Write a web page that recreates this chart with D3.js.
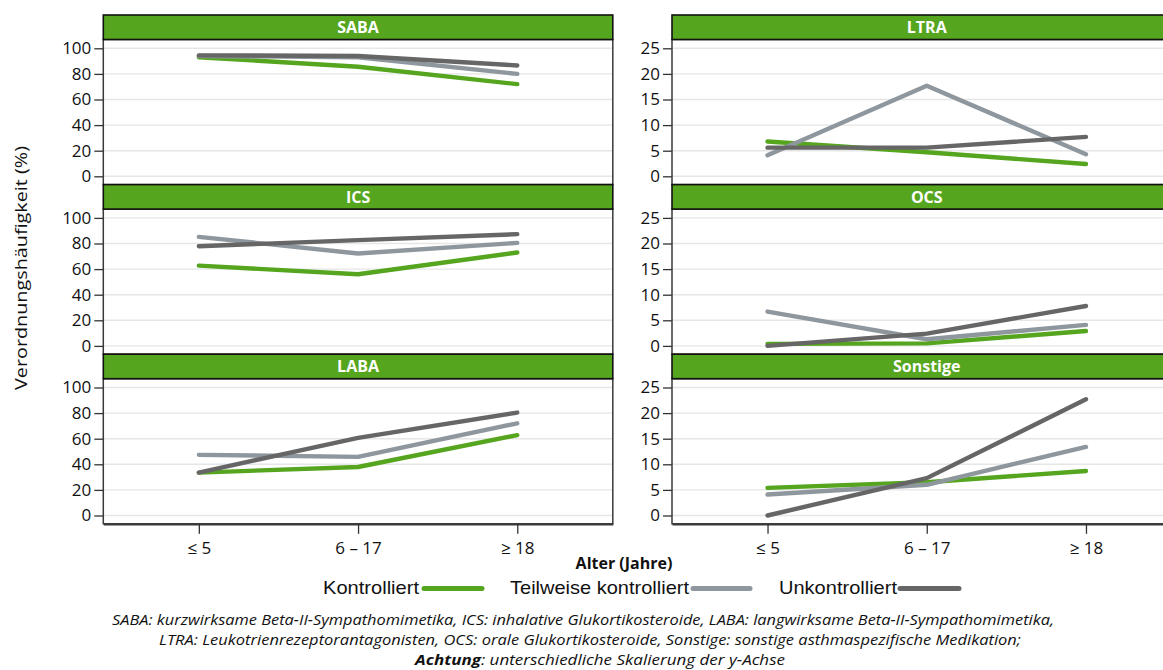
<!DOCTYPE html>
<html>
<head>
<meta charset="utf-8">
<script src="https://cdn.jsdelivr.net/npm/d3@7"></script>
<style>
  html, body { margin: 0; padding: 0; background: #fff; overflow: hidden; }
  svg { display: block; }
</style>
</head>
<body>
<svg id="chart" width="1163" height="670"></svg>
<script>
// ---------- data ----------
const categories = ["≤ 5", "6 – 17", "≥ 18"];
const seriesNames = ["Kontrolliert", "Teilweise kontrolliert", "Unkontrolliert"];
const leftPanels = ["SABA", "ICS", "LABA"];
const rightPanels = ["LTRA", "OCS", "Sonstige"];
const leftTicks = [0, 20, 40, 60, 80, 100];
const rightTicks = [0, 5, 10, 15, 20, 25];

// values per panel: [Kontrolliert, Teilweise kontrolliert, Unkontrolliert]
const SABA     = [[93.0, 85.6, 72.0], [94.0, 93.0, 80.0], [94.5, 94.0, 86.6]];
const ICS      = [[62.7, 56.0, 73.0], [85.2, 72.2, 80.5], [77.9, 82.6, 87.3]];
const LABA     = [[33.5, 37.9, 62.8], [47.4, 45.8, 72.0], [33.5, 60.7, 80.4]];
const LTRA     = [[6.8, 4.7, 2.4],    [4.1, 17.7, 4.3],   [5.6, 5.6, 7.7]];
const OCS      = [[0.4, 0.5, 2.9],    [6.7, 1.3, 4.1],    [0.0, 2.4, 7.8]];
const Sonstige = [[5.4, 6.5, 8.7],    [4.1, 6.0, 13.4],   [0.0, 7.3, 22.7]];
const panelValues = { SABA, ICS, LABA, LTRA, OCS, Sonstige };

const footnote1 = "SABA: kurzwirksame Beta-II-Sympathomimetika, ICS: inhalative Glukortikosteroide, LABA: langwirksame Beta-II-Sympathomimetika,";
const footnote2 = "LTRA: Leukotrienrezeptorantagonisten, OCS: orale Glukortikosteroide, Sonstige: sonstige asthmaspezifische Medikation;";

// ---------- styles ----------
const colors = ["#55a51e", "#8f979e", "#666666"];
const stripFill = "#55a51e";
const tickFont = "'Open Sans', sans-serif";

const svg = d3.select("#chart");

const colLefts = [103.3, 672];
const panelW = 509.5;
const rowTop0 = 15, rowH = 169.6, stripH = 24.5;

function drawPanel(name, col, row, maxV, ticks) {
  const x0 = colLefts[col];
  const top = rowTop0 + row * rowH;
  const plotTop = top + stripH;
  const plotBottom = top + rowH;

  const x = d3.scalePoint().domain(categories).range([x0, x0 + panelW]).padding(0.6);
  const y = d3.scaleLinear().domain([0, maxV]).range([plotBottom - 8.3, plotTop + 8.8]);

  const g = svg.append("g");

  // gridlines
  g.append("g").selectAll("line").data(ticks).join("line")
    .attr("x1", x0).attr("x2", x0 + panelW)
    .attr("y1", d => y(d)).attr("y2", d => y(d))
    .attr("stroke", "#e6e6e6").attr("stroke-width", 1.4);

  // y axis
  const yAxis = d3.axisLeft(y).tickValues(ticks).tickSize(9).tickPadding(3).tickFormat(d3.format("d"));
  const ya = g.append("g").attr("transform", `translate(${x0},0)`).call(yAxis);
  ya.select(".domain").remove();
  ya.selectAll(".tick line").attr("stroke", "#333").attr("stroke-width", 1.3);
  ya.selectAll(".tick text").attr("font-family", tickFont).attr("font-size", 17).attr("fill", "#111");

  // lines
  const line = d3.line().x((d, i) => x(categories[i])).y(d => y(d));
  const vals = panelValues[name];
  g.append("g").selectAll("path").data(vals).join("path")
    .attr("d", d => line(d))
    .attr("fill", "none")
    .attr("stroke", (d, i) => colors[i])
    .attr("stroke-width", 4.4)
    .attr("stroke-linecap", "round")
    .attr("stroke-linejoin", "round");

  // panel border
  g.append("rect").attr("x", x0).attr("y", plotTop).attr("width", panelW).attr("height", plotBottom - plotTop)
    .attr("fill", "none").attr("stroke", "#3a3a3a").attr("stroke-width", 1.5);

  // strip
  g.append("rect").attr("x", x0).attr("y", top).attr("width", panelW).attr("height", stripH)
    .attr("fill", stripFill).attr("stroke", "#111").attr("stroke-width", 1.6);
  g.append("text").attr("x", x0 + panelW / 2).attr("y", top + stripH / 2 + 6)
    .attr("text-anchor", "middle").attr("font-family", tickFont).attr("font-weight", 700)
    .attr("font-size", 16).attr("fill", "#fff").text(name);

  // x axis on bottom row
  if (row === 2) {
    const xAxis = d3.axisBottom(x).tickSizeInner(10).tickSizeOuter(0).tickPadding(8);
    const xa = g.append("g").attr("transform", `translate(0,${plotBottom})`).call(xAxis);
    xa.select(".domain").attr("stroke", "#3a3a3a").attr("stroke-width", 2.2);
    xa.selectAll(".tick line").attr("stroke", "#333").attr("stroke-width", 1.3);
    xa.selectAll(".tick text").attr("font-family", tickFont).attr("font-size", 17).attr("fill", "#111");
  }
}

leftPanels.forEach((p, i) => drawPanel(p, 0, i, 100, leftTicks));
rightPanels.forEach((p, i) => drawPanel(p, 1, i, 25, rightTicks));

// y label
svg.append("text")
  .attr("transform", "translate(27,268) rotate(-90)")
  .attr("text-anchor", "middle").attr("font-family", tickFont).attr("font-size", 17).attr("fill", "#111")
  .attr("textLength", 244).attr("lengthAdjust", "spacingAndGlyphs")
  .text("Verordnungshäufigkeit (%)");

// x label
svg.append("text").attr("x", 624).attr("y", 569).attr("text-anchor", "middle")
  .attr("font-family", tickFont).attr("font-weight", 700).attr("font-size", 16).attr("fill", "#111")
  .text("Alter (Jahre)");

// legend
const legendTextX = [323, 510, 779];
const legendTextW = [96, 179, 118];
const legendLineX = [[424, 482], [693, 750], [900, 959]];
const lg = svg.append("g");
seriesNames.forEach((s, i) => {
  lg.append("text").attr("x", legendTextX[i]).attr("y", 594)
    .attr("font-family", "'Liberation Sans', Arial, sans-serif").attr("font-size", 19).attr("fill", "#111")
    .attr("textLength", legendTextW[i]).attr("lengthAdjust", "spacingAndGlyphs")
    .text(s);
  lg.append("line").attr("x1", legendLineX[i][0]).attr("x2", legendLineX[i][1])
    .attr("y1", 588.5).attr("y2", 588.5)
    .attr("stroke", colors[i]).attr("stroke-width", 5).attr("stroke-linecap", "round");
});

// footnote
const fn = svg.append("g").attr("font-family", tickFont).attr("font-style", "italic").attr("fill", "#111").attr("font-size", 14.5);
fn.append("text").attr("x", 112).attr("y", 625).attr("textLength", 942).attr("lengthAdjust", "spacingAndGlyphs").text(footnote1);
fn.append("text").attr("x", 159).attr("y", 645).attr("textLength", 862).attr("lengthAdjust", "spacingAndGlyphs").text(footnote2);
const t3 = fn.append("text").attr("x", 415).attr("y", 665).attr("textLength", 370).attr("lengthAdjust", "spacingAndGlyphs");
t3.append("tspan").attr("font-weight", 700).text("Achtung");
t3.append("tspan").text(": unterschiedliche Skalierung der y-Achse");
</script>
</body>
</html>
